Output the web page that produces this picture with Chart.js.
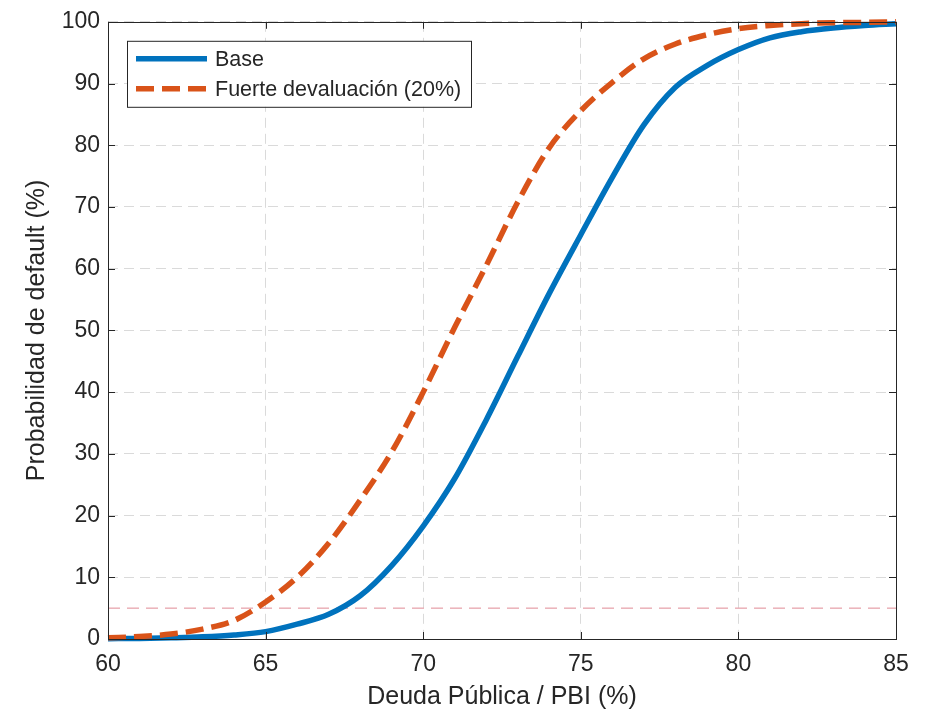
<!DOCTYPE html>
<html>
<head>
<meta charset="utf-8">
<title>Probabilidad de default</title>
<script src="https://cdn.jsdelivr.net/npm/chart.js@4.4.1/dist/chart.umd.min.js"></script>
<style>
  html, body { margin: 0; padding: 0; background: #fff; }
  #wrap { width: 925px; height: 712px; }
</style>
</head>
<body>
<div id="wrap"><canvas id="chart" width="925" height="712"></canvas></div>
<script>
  // ── data ──────────────────────────────────────────────────────────────────
  const deudaPBI = [60, 61, 62, 63, 64, 65, 66, 67, 68, 69, 70, 71, 72,
                    73, 74, 75, 76, 77, 78, 79, 80, 81, 82, 83, 84, 85];
  const probBase = [0.05, 0.1, 0.2, 0.35, 0.65, 1.2, 2.4, 4.0, 7.0, 11.9, 18.3, 26.0, 35.5,
                    45.8, 56.0, 65.5, 74.8, 83.3, 89.4, 92.9, 95.5, 97.4, 98.4, 99.0, 99.4, 99.7];
  const probDeval = [0.2, 0.4, 0.8, 1.6, 3.0, 6.0, 10.0, 15.5, 22.5, 30.3, 40.0, 50.5, 60.5,
                     70.8, 79.6, 85.6, 90.2, 94.0, 96.4, 97.9, 98.9, 99.4, 99.7, 99.85, 99.9, 100];
  const umbralX = [60, 85];
  const umbralY = [5, 5];

  const xTicks = [60, 65, 70, 75, 80, 85];
  const yTicks = [0, 10, 20, 30, 40, 50, 60, 70, 80, 90, 100];

  const seriesLabels = ['Base', 'Fuerte devaluación (20%)'];

  // ── styling ───────────────────────────────────────────────────────────────
  const FONT = '"Liberation Sans", Arial, Helvetica, sans-serif';
  const INK = '#262626';
  const BLUE = '#0072BD';
  const ORANGE = '#D95319';

  const toPoints = (xs, ys) => xs.map((x, i) => ({ x, y: ys[i] }));

  // MATLAB-like box with inward ticks on all four sides
  const boxPlugin = {
    id: 'matlabBox',
    afterDatasetsDraw(chart) {
      const { ctx, chartArea: a, scales } = chart;
      const tl = 7;
      ctx.save();
      ctx.strokeStyle = INK;
      ctx.lineWidth = 1;
      ctx.beginPath();
      xTicks.forEach(v => {
        const px = Math.round(scales.x.getPixelForValue(v)) + 0.5;
        ctx.moveTo(px, a.bottom); ctx.lineTo(px, a.bottom - tl);
        ctx.moveTo(px, a.top); ctx.lineTo(px, a.top + tl);
      });
      yTicks.forEach(v => {
        const py = Math.round(scales.y.getPixelForValue(v)) + 0.5;
        ctx.moveTo(a.left, py); ctx.lineTo(a.left + tl, py);
        ctx.moveTo(a.right, py); ctx.lineTo(a.right - tl, py);
      });
      ctx.stroke();
      ctx.strokeRect(Math.round(a.left) + 0.5, Math.round(a.top) + 0.5,
                     Math.round(a.right - a.left), Math.round(a.bottom - a.top));
      ctx.restore();
    }
  };

  // legend box drawn inside the plot area, top-left
  const legendPlugin = {
    id: 'insideLegend',
    afterDraw(chart) {
      const { ctx, chartArea: a } = chart;
      const x0 = a.left + 19, y0 = a.top + 19, w = 344, h = 66;
      ctx.save();
      ctx.fillStyle = '#fff';
      ctx.fillRect(x0, y0, w, h);
      ctx.strokeStyle = INK;
      ctx.lineWidth = 1;
      ctx.strokeRect(x0 + 0.5, y0 + 0.5, w, h);
      ctx.font = '21.5px ' + FONT;
      ctx.textBaseline = 'middle';
      ctx.fillStyle = INK;
      [0, 1].forEach(i => {
        const ds = chart.data.datasets[i];
        const y = y0 + 18 + i * 30;
        ctx.beginPath();
        ctx.strokeStyle = ds.borderColor;
        ctx.lineWidth = ds.borderWidth;
        ctx.setLineDash(ds.borderDash || []);
        ctx.moveTo(x0 + 9, y);
        ctx.lineTo(x0 + 80, y);
        ctx.stroke();
        ctx.setLineDash([]);
        ctx.fillText(ds.label, x0 + 88, y + 1);
      });
      ctx.restore();
    }
  };

  new Chart(document.getElementById('chart'), {
    type: 'line',
    data: {
      datasets: [
        {
          label: seriesLabels[0],
          data: toPoints(deudaPBI, probBase),
          borderColor: BLUE,
          borderWidth: 5.5,
          pointRadius: 0,
          cubicInterpolationMode: 'monotone',
          clip: 8,
          order: 2
        },
        {
          label: seriesLabels[1],
          data: toPoints(deudaPBI, probDeval),
          borderColor: ORANGE,
          borderWidth: 5.5,
          borderDash: [18, 8],
          pointRadius: 0,
          cubicInterpolationMode: 'monotone',
          clip: 8,
          order: 1
        },
        {
          label: 'umbral',
          data: toPoints(umbralX, umbralY),
          borderColor: '#e08a94',
          borderWidth: 1,
          borderDash: [12, 7],
          pointRadius: 0,
          order: 3
        }
      ]
    },
    options: {
      responsive: false,
      animation: false,
      devicePixelRatio: 1,
      layout: { padding: { top: 16, right: 29, left: 0, bottom: 0 } },
      plugins: {
        legend: { display: false },
        tooltip: { enabled: false }
      },
      scales: {
        x: {
          type: 'linear',
          min: 60,
          max: 85,
          afterFit: s => { s.height = 73; },
          afterBuildTicks: s => { s.ticks = xTicks.map(v => ({ value: v })); },
          ticks: { padding: 12, color: INK, font: { family: FONT, size: 23 } },
          grid: { color: '#dadada', lineWidth: 1, drawTicks: false },
          border: { display: false, dash: [10, 6] },
          title: {
            display: true,
            text: 'Deuda Pública / PBI (%)',
            color: INK,
            font: { family: FONT, size: 25 },
            padding: { top: 0, bottom: 0 }
          }
        },
        y: {
          type: 'linear',
          min: 0,
          max: 100,
          afterFit: s => { s.width = 108; },
          afterBuildTicks: s => { s.ticks = yTicks.map(v => ({ value: v })); },
          ticks: { padding: 8, color: INK, font: { family: FONT, size: 23 } },
          grid: { color: '#dadada', lineWidth: 1, drawTicks: false },
          border: { display: false, dash: [10, 6] },
          title: {
            display: true,
            text: 'Probabilidad de default (%)',
            color: INK,
            font: { family: FONT, size: 25 },
            padding: { top: 22, bottom: 0 }
          }
        }
      }
    },
    plugins: [boxPlugin, legendPlugin]
  });
</script>
</body>
</html>
